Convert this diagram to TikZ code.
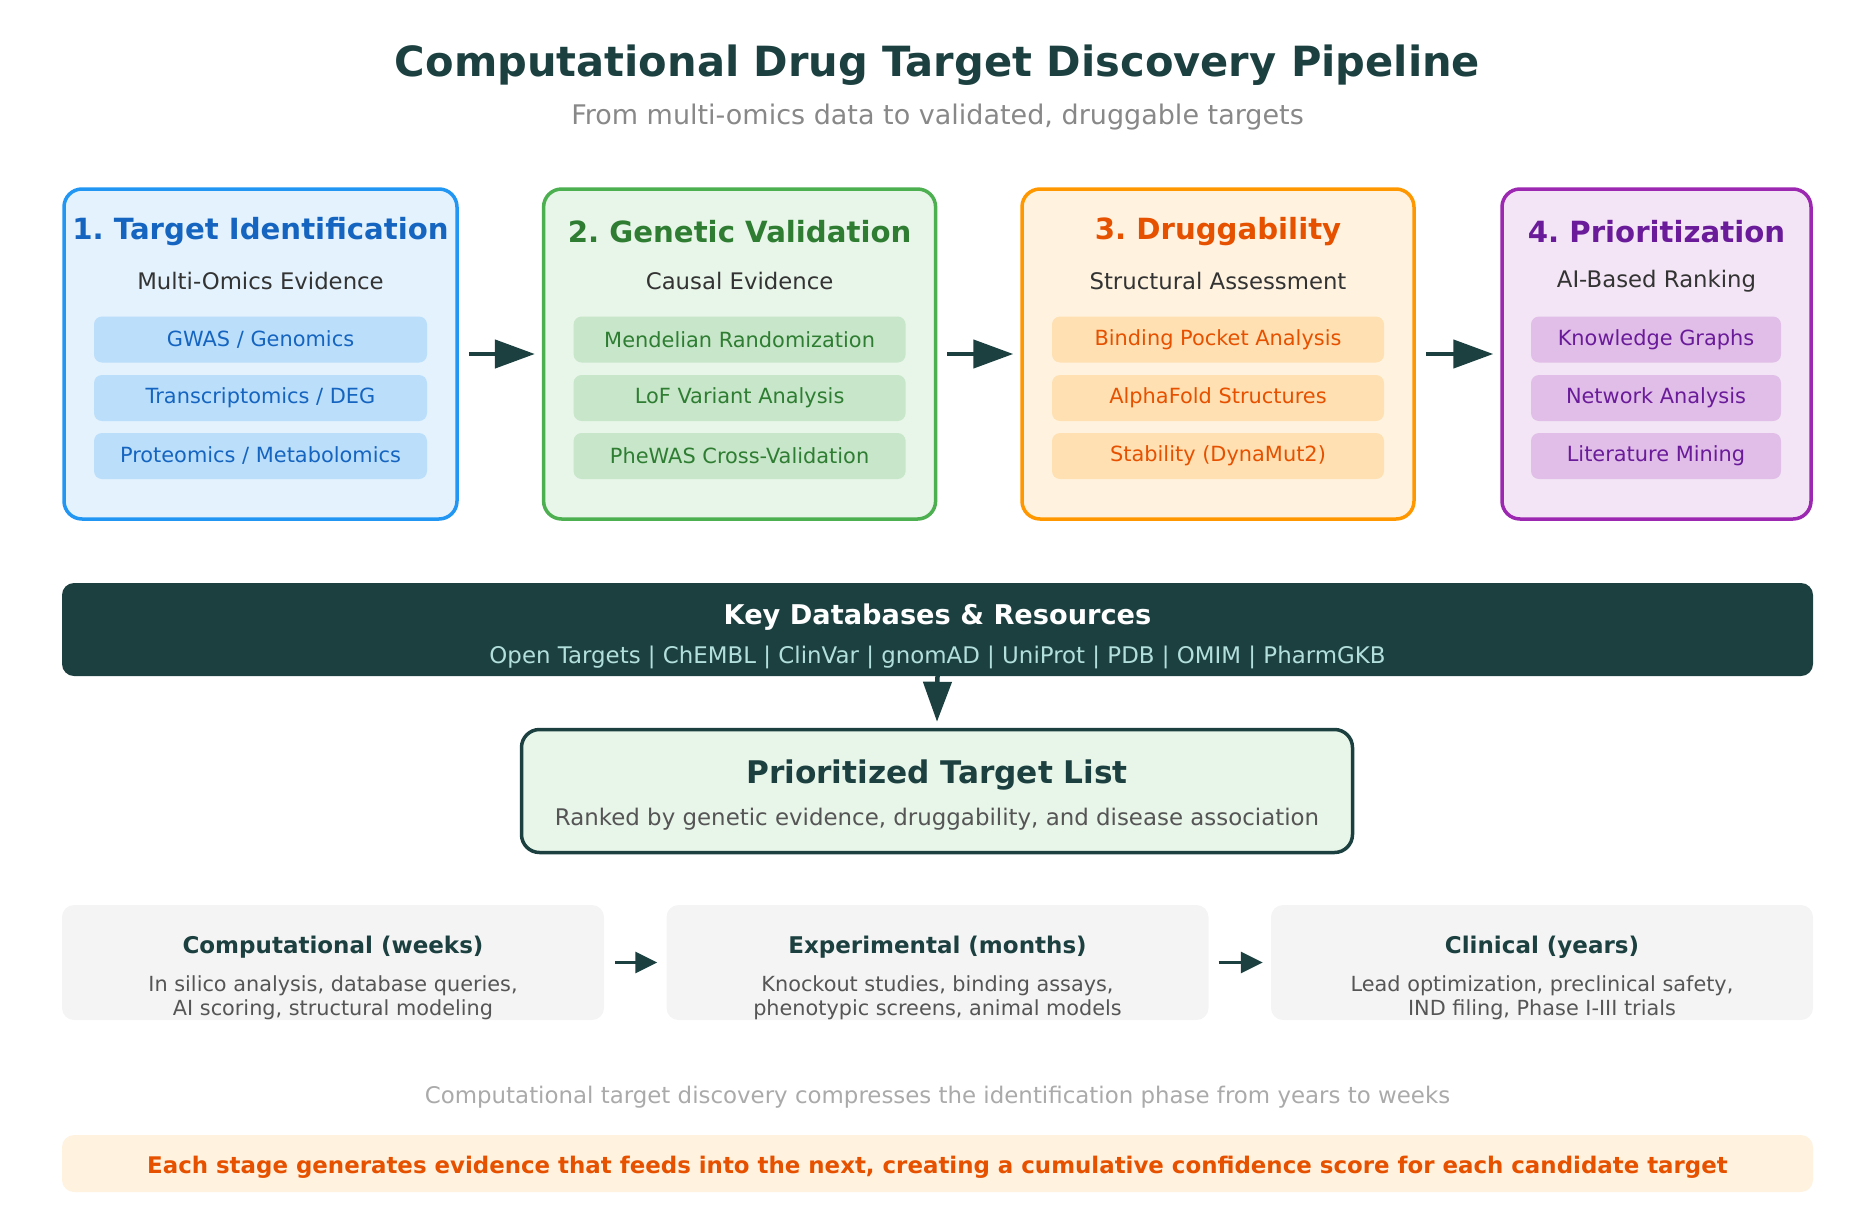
\documentclass[tikz,border=0pt]{standalone}
\usepackage{fontspec}
\setmainfont{DejaVu Sans}
\frenchspacing
\usetikzlibrary{arrows.meta,positioning,calc}
\definecolor{darkteal}{HTML}{1C4040}
\definecolor{subgray}{HTML}{888888}
\definecolor{bodytxt}{HTML}{333333}
\definecolor{midgray}{HTML}{555555}
\definecolor{notegray}{HTML}{AAAAAA}
\definecolor{dbtxt}{HTML}{B2DFDB}
\definecolor{blueln}{HTML}{2196F3}
\definecolor{bluebg}{HTML}{E3F2FD}
\definecolor{bluetx}{HTML}{1565C0}
\definecolor{bluechip}{HTML}{BBDEFB}
\definecolor{greenln}{HTML}{4CAF50}
\definecolor{greenbg}{HTML}{E8F5E9}
\definecolor{greentx}{HTML}{2E7D32}
\definecolor{greenchip}{HTML}{C8E6C9}
\definecolor{orangeln}{HTML}{FF9800}
\definecolor{orangebg}{HTML}{FFF3E0}
\definecolor{orangetx}{HTML}{E65100}
\definecolor{orangechip}{HTML}{FFE0B2}
\definecolor{purpleln}{HTML}{9C27B0}
\definecolor{purplebg}{HTML}{F3E5F5}
\definecolor{purpletx}{HTML}{6A1B9A}
\definecolor{purplechip}{HTML}{E1BEE7}
\definecolor{phasebg}{HTML}{F4F4F4}

\begin{document}
\begin{tikzpicture}[
  x=1pt, y=-1pt,
  stage/.style={
    rectangle, rounded corners=18pt, line width=3.5pt,
    minimum height=330pt, inner sep=0pt
  },
  stitle/.style={font=\fontsize{29.2}{34}\selectfont\bfseries},
  ssub/.style={font=\fontsize{22.8}{27}\selectfont, text=bodytxt},
  chip/.style={
    rectangle, rounded corners=8pt, minimum height=46pt,
    inner sep=0pt, font=\fontsize{20.9}{24}\selectfont
  },
  phase/.style={
    rectangle, rounded corners=12pt, fill=phasebg,
    minimum width=542pt, minimum height=115pt, inner sep=0pt
  },
  ptitle/.style={font=\fontsize{23}{27}\selectfont\bfseries, text=darkteal},
  ptext/.style={font=\fontsize{20.8}{24}\selectfont, text=midgray, align=center},
  arr/.style={-{Triangle[length=40pt,width=28pt]}, line width=4.5pt, darkteal},
  arrs/.style={-{Triangle[length=22pt,width=21pt]}, line width=3pt, darkteal}
]
\useasboundingbox (0,0) rectangle (1875,1208);

% heading
\node[font=\fontsize{41.6}{48}\selectfont\bfseries, text=darkteal] (title) at (937.5,65) {Computational Drug Target Discovery Pipeline};
\node[font=\fontsize{27}{32}\selectfont, text=subgray] (subtitle) at (937.5,117) {From multi-omics data to validated, druggable targets};

% stage 1
\node[stage, draw=blueln, fill=bluebg, minimum width=393pt] (s1) at (260.5,354) {};
\node[stitle, text=bluetx] (t1) at (260.5,232) {1. Target Identification};
\node[ssub] (u1) at (260.5,281) {Multi-Omics Evidence};
\node[chip, fill=bluechip, text=bluetx, minimum width=333pt] (c11) at (260.5,339.5) {GWAS / Genomics};
\node[chip, fill=bluechip, text=bluetx, minimum width=333pt] (c12) at (260.5,398) {Transcriptomics / DEG};
\node[chip, fill=bluechip, text=bluetx, minimum width=333pt] (c13) at (260.5,456) {Proteomics / Metabolomics};

% stage 2
\node[stage, draw=greenln, fill=greenbg, minimum width=392pt] (s2) at (739.6,354) {};
\node[stitle, text=greentx] (t2) at (739.6,232) {2. Genetic Validation};
\node[ssub] (u2) at (739.6,281) {Causal Evidence};
\node[chip, fill=greenchip, text=greentx, minimum width=332pt] (c21) at (739.6,339.5) {Mendelian Randomization};
\node[chip, fill=greenchip, text=greentx, minimum width=332pt] (c22) at (739.6,398) {LoF Variant Analysis};
\node[chip, fill=greenchip, text=greentx, minimum width=332pt] (c23) at (739.6,456) {PheWAS Cross-Validation};

% stage 3
\node[stage, draw=orangeln, fill=orangebg, minimum width=392pt] (s3) at (1218,354) {};
\node[stitle, text=orangetx] (t3) at (1218,232) {3. Druggability};
\node[ssub] (u3) at (1218,281) {Structural Assessment};
\node[chip, fill=orangechip, text=orangetx, minimum width=332pt] (c31) at (1218,339.5) {Binding Pocket Analysis};
\node[chip, fill=orangechip, text=orangetx, minimum width=332pt] (c32) at (1218,398) {AlphaFold Structures};
\node[chip, fill=orangechip, text=orangetx, minimum width=332pt] (c33) at (1218,456) {Stability (DynaMut2)};

% stage 4
\node[stage, draw=purpleln, fill=purplebg, minimum width=309pt] (s4) at (1656.5,354) {};
\node[stitle, text=purpletx] (t4) at (1656.5,232) {4. Prioritization};
\node[ssub] (u4) at (1656.5,281) {AI-Based Ranking};
\node[chip, fill=purplechip, text=purpletx, minimum width=250pt] (c41) at (1656,339.5) {Knowledge Graphs};
\node[chip, fill=purplechip, text=purpletx, minimum width=250pt] (c42) at (1656,398) {Network Analysis};
\node[chip, fill=purplechip, text=purpletx, minimum width=250pt] (c43) at (1656,456) {Literature Mining};

\draw[arr] ([xshift=10pt]s1.east) -- ([xshift=-7pt]s2.west);
\draw[arr] ([xshift=10pt]s2.east) -- ([xshift=-7pt]s3.west);
\draw[arr] ([xshift=10pt]s3.east) -- ([xshift=-7pt]s4.west);

% databases
\node[rectangle, rounded corners=12pt, fill=darkteal, minimum width=1751pt, minimum height=93pt, inner sep=0pt] (db) at (937.5,629.5) {};
\node[font=\fontsize{27.2}{32}\selectfont\bfseries, text=white] (dbtitle) at (937.5,617) {Key Databases \& Resources};
\node[font=\fontsize{22.9}{27}\selectfont, text=dbtxt] (dblist) at (937.5,657) {Open Targets | ChEMBL | ClinVar | gnomAD | UniProt | PDB | OMIM | PharmGKB};

% target list
\node[rectangle, rounded corners=18pt, draw=darkteal, line width=3.5pt, fill=greenbg, minimum width=831pt, minimum height=123pt, inner sep=0pt] (plist) at (937,791) {};
\node[font=\fontsize{31.2}{36}\selectfont\bfseries, text=darkteal] (ptitle) at (937,775) {Prioritized Target List};
\node[font=\fontsize{22.9}{27}\selectfont, text=midgray] (psub) at (937,819) {Ranked by genetic evidence, druggability, and disease association};
\draw[arr] (db.south) -- ([yshift=6pt]plist.north);

% timeline
\node[phase] (b1) at (333,962.5) {};
\node[ptitle] (bt1) at (333,947.5) {Computational (weeks)};
\node[ptext] (bx1) at (333,998) {In silico analysis, database queries,\\AI scoring, structural modeling};
\node[phase] (b2) at (937.5,962.5) {};
\node[ptitle] (bt2) at (937.5,947.5) {Experimental (months)};
\node[ptext] (bx2) at (937.5,998) {Knockout studies, binding assays,\\phenotypic screens, animal models};
\node[phase] (b3) at (1542,962.5) {};
\node[ptitle] (bt3) at (1542,947.5) {Clinical (years)};
\node[ptext] (bx3) at (1542,998) {Lead optimization, preclinical safety,\\IND filing, Phase I-III trials};
\draw[arrs] ([xshift=11pt]b1.east) -- ([xshift=-9pt]b2.west);
\draw[arrs] ([xshift=10pt]b2.east) -- ([xshift=-8pt]b3.west);

% footer
\node[font=\fontsize{22.9}{27}\selectfont, text=notegray] (note) at (937.5,1097) {Computational target discovery compresses the identification phase from years to weeks};
\node[rectangle, rounded corners=12pt, fill=orangebg, minimum width=1751pt, minimum height=57pt, inner sep=0pt] (bar) at (937.5,1163.5) {};
\node[font=\fontsize{22.9}{27}\selectfont\bfseries, text=orangetx] (bartext) at (937.5,1167) {Each stage generates evidence that feeds into the next, creating a cumulative confidence score for each candidate target};
\end{tikzpicture}
\end{document}
